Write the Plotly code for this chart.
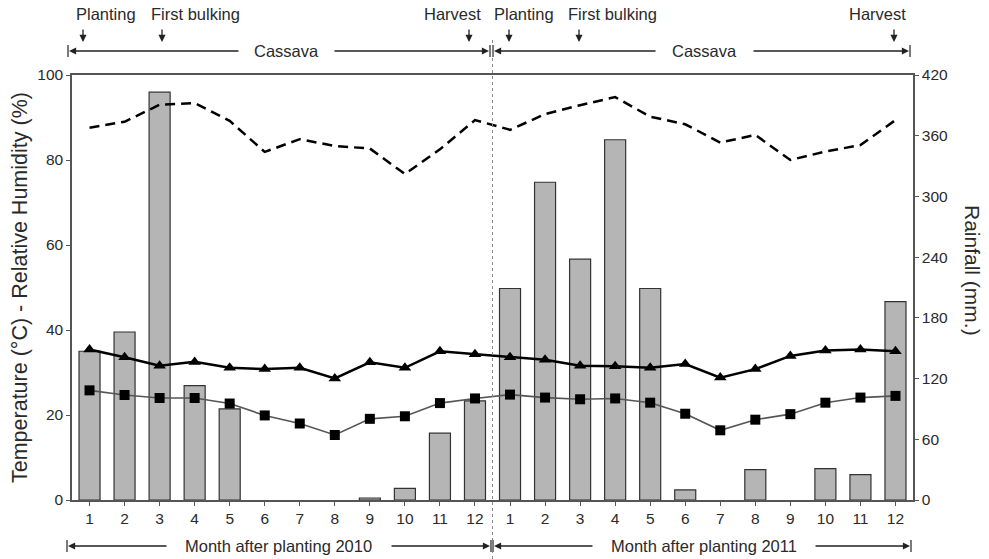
import plotly.graph_objects as go

# ---------------- data ----------------
month_labels = [str(m) for m in range(1, 13)] * 2
rainfall_mm = [147, 166, 403, 113, 90, 0, 0, 0, 2, 11.5, 66, 98,
               209, 314, 238, 356, 209, 10, 0, 30, 0, 31, 25, 196]
humidity_pct = [87.6, 89.0, 93.0, 93.4, 89.2, 81.9, 84.9, 83.3, 82.7, 76.7, 82.5, 89.4,
                87.1, 90.8, 92.9, 94.8, 90.2, 88.4, 84.1, 85.9, 80.0, 82.0, 83.5, 89.4]
temp_max = [35.4, 33.6, 31.6, 32.5, 31.1, 30.8, 31.1, 28.6, 32.4, 31.1, 35.0, 34.3,
            33.6, 33.0, 31.6, 31.5, 31.1, 32.0, 28.8, 30.8, 33.9, 35.2, 35.4, 35.0]
temp_mean = [25.8, 24.7, 24.0, 24.0, 22.7, 19.9, 18.0, 15.3, 19.1, 19.7, 22.8, 23.9,
             24.8, 24.1, 23.7, 23.9, 22.9, 20.3, 16.4, 18.9, 20.2, 22.9, 24.1, 24.5]
left_ticks = [0, 20, 40, 60, 80, 100]
right_ticks = [0, 60, 120, 180, 240, 300, 360, 420]

x = list(range(len(month_labels)))

FONT = "Liberation Sans, Arial, sans-serif"
TXT = "#2a2a2a"
AX = "#555555"
INK = "#222222"

W, H = 989, 559
L, R, T, B = 72, 76, 75, 59
PW, PH = W - L - R, H - T - B


def P(px):
    return (px - L) / PW


def Q(py):
    return (H - B - py) / PH


fig = go.Figure()

fig.add_trace(go.Bar(x=x, y=rainfall_mm, yaxis="y", width=0.6,
                     marker=dict(color="#b5b5b5",
                                 line=dict(color="#333333",
                                           width=[0 if v == 0 else 1.2 for v in rainfall_mm])),
                     name="Rainfall"))
fig.add_trace(go.Scatter(x=x, y=humidity_pct, yaxis="y2", mode="lines",
                         line=dict(color="black", width=2.5, dash="10px,6px"),
                         name="RH"))
fig.add_trace(go.Scatter(x=x, y=temp_max, yaxis="y2", mode="lines+markers",
                         line=dict(color="black", width=2.5),
                         marker=dict(symbol="triangle-up", size=11, color="black"),
                         name="Tmax"))
fig.add_trace(go.Scatter(x=x, y=temp_mean, yaxis="y2", mode="lines+markers",
                         line=dict(color="#555555", width=1.6),
                         marker=dict(symbol="square", size=10, color="black"),
                         name="Tmean"))

annotations = []
shapes = []


def text(label, px, py, size=16.5, angle=0):
    annotations.append(dict(text=label, xref="paper", yref="paper", x=P(px), y=Q(py),
                            xanchor="center", yanchor="middle", textangle=angle,
                            showarrow=False, font=dict(size=size, color=TXT, family=FONT)))


def arrow(x_head, y_head, x_tail, y_tail):
    annotations.append(dict(text="", xref="paper", yref="paper", x=P(x_head), y=Q(y_head),
                            ax=x_tail - x_head, ay=y_tail - y_head, axref="pixel", ayref="pixel",
                            showarrow=True, arrowhead=2, arrowsize=1.1, arrowwidth=1.3,
                            arrowcolor=INK, standoff=0, startstandoff=0))


# axis titles
text("Temperature (\u00b0C) - Relative Humidity (%)", 20, 288, size=21.5, angle=-90)
text("Rainfall (mm.)", 973, 270, size=21, angle=90)

# event labels with down arrows
events = [("Planting", 106, 83), ("First bulking", 195, 162), ("Harvest", 452, 469),
          ("Planting", 524, 509), ("First bulking", 612, 579), ("Harvest", 877, 894)]
for label, cx, ax_px in events:
    text(label, cx, 14)
    arrow(ax_px, 42, ax_px, 28)


def span(y, x0, g0, g1, x1, label, cx):
    arrow(x0 + 1, y, g0, y)
    arrow(x1 - 1, y, g1, y)
    for xe in (x0, x1):
        shapes.append(dict(type="line", xref="paper", yref="paper", x0=P(xe), x1=P(xe),
                           y0=Q(y - 6), y1=Q(y + 6), line=dict(color=INK, width=1.2)))
    text(label, cx, y)


span(51, 68, 240, 333, 490, "Cassava", 286)
span(51, 493, 657, 752, 910, "Cassava", 704)
span(546, 67, 168, 390, 491, "Month after planting 2010", 278)
span(546, 493, 594, 814, 911, "Month after planting 2011", 704)

# dotted divider between years
shapes.append(dict(type="line", xref="x", yref="paper", x0=11.5, x1=11.5,
                   y0=Q(559), y1=Q(40), line=dict(color="#888888", width=1, dash="dot")))

fig.update_layout(
    width=W, height=H,
    margin=dict(l=L, r=R, t=T, b=B),
    paper_bgcolor="white", plot_bgcolor="white",
    showlegend=False,
    font=dict(family=FONT, size=15, color=TXT),
    xaxis=dict(range=[-0.5, len(x) - 0.5], tickmode="array", tickvals=x, ticktext=month_labels,
               showline=True, linecolor=AX, linewidth=1.5, mirror=True,
               ticks="outside", ticklen=4, tickcolor=AX, showgrid=False, zeroline=False,
               tickfont=dict(size=15.5, color=TXT)),
    yaxis=dict(side="right", range=[0, 420], tickmode="array", tickvals=right_ticks,
               showline=True, linecolor=AX, linewidth=1.5, ticks="outside", ticklen=4,
               tickcolor=AX, showgrid=False, zeroline=False, tickfont=dict(size=15.5, color=TXT)),
    yaxis2=dict(side="left", overlaying="y", range=[0, 100], tickmode="array", tickvals=left_ticks,
                showline=True, linecolor=AX, linewidth=1.5, ticks="outside", ticklen=4,
                tickcolor=AX, showgrid=False, zeroline=False, tickfont=dict(size=15.5, color=TXT)),
    annotations=annotations,
    shapes=shapes,
)

fig.write_html("out.html", config={"displayModeBar": False},
               post_script="document.body.style.margin='0';")
